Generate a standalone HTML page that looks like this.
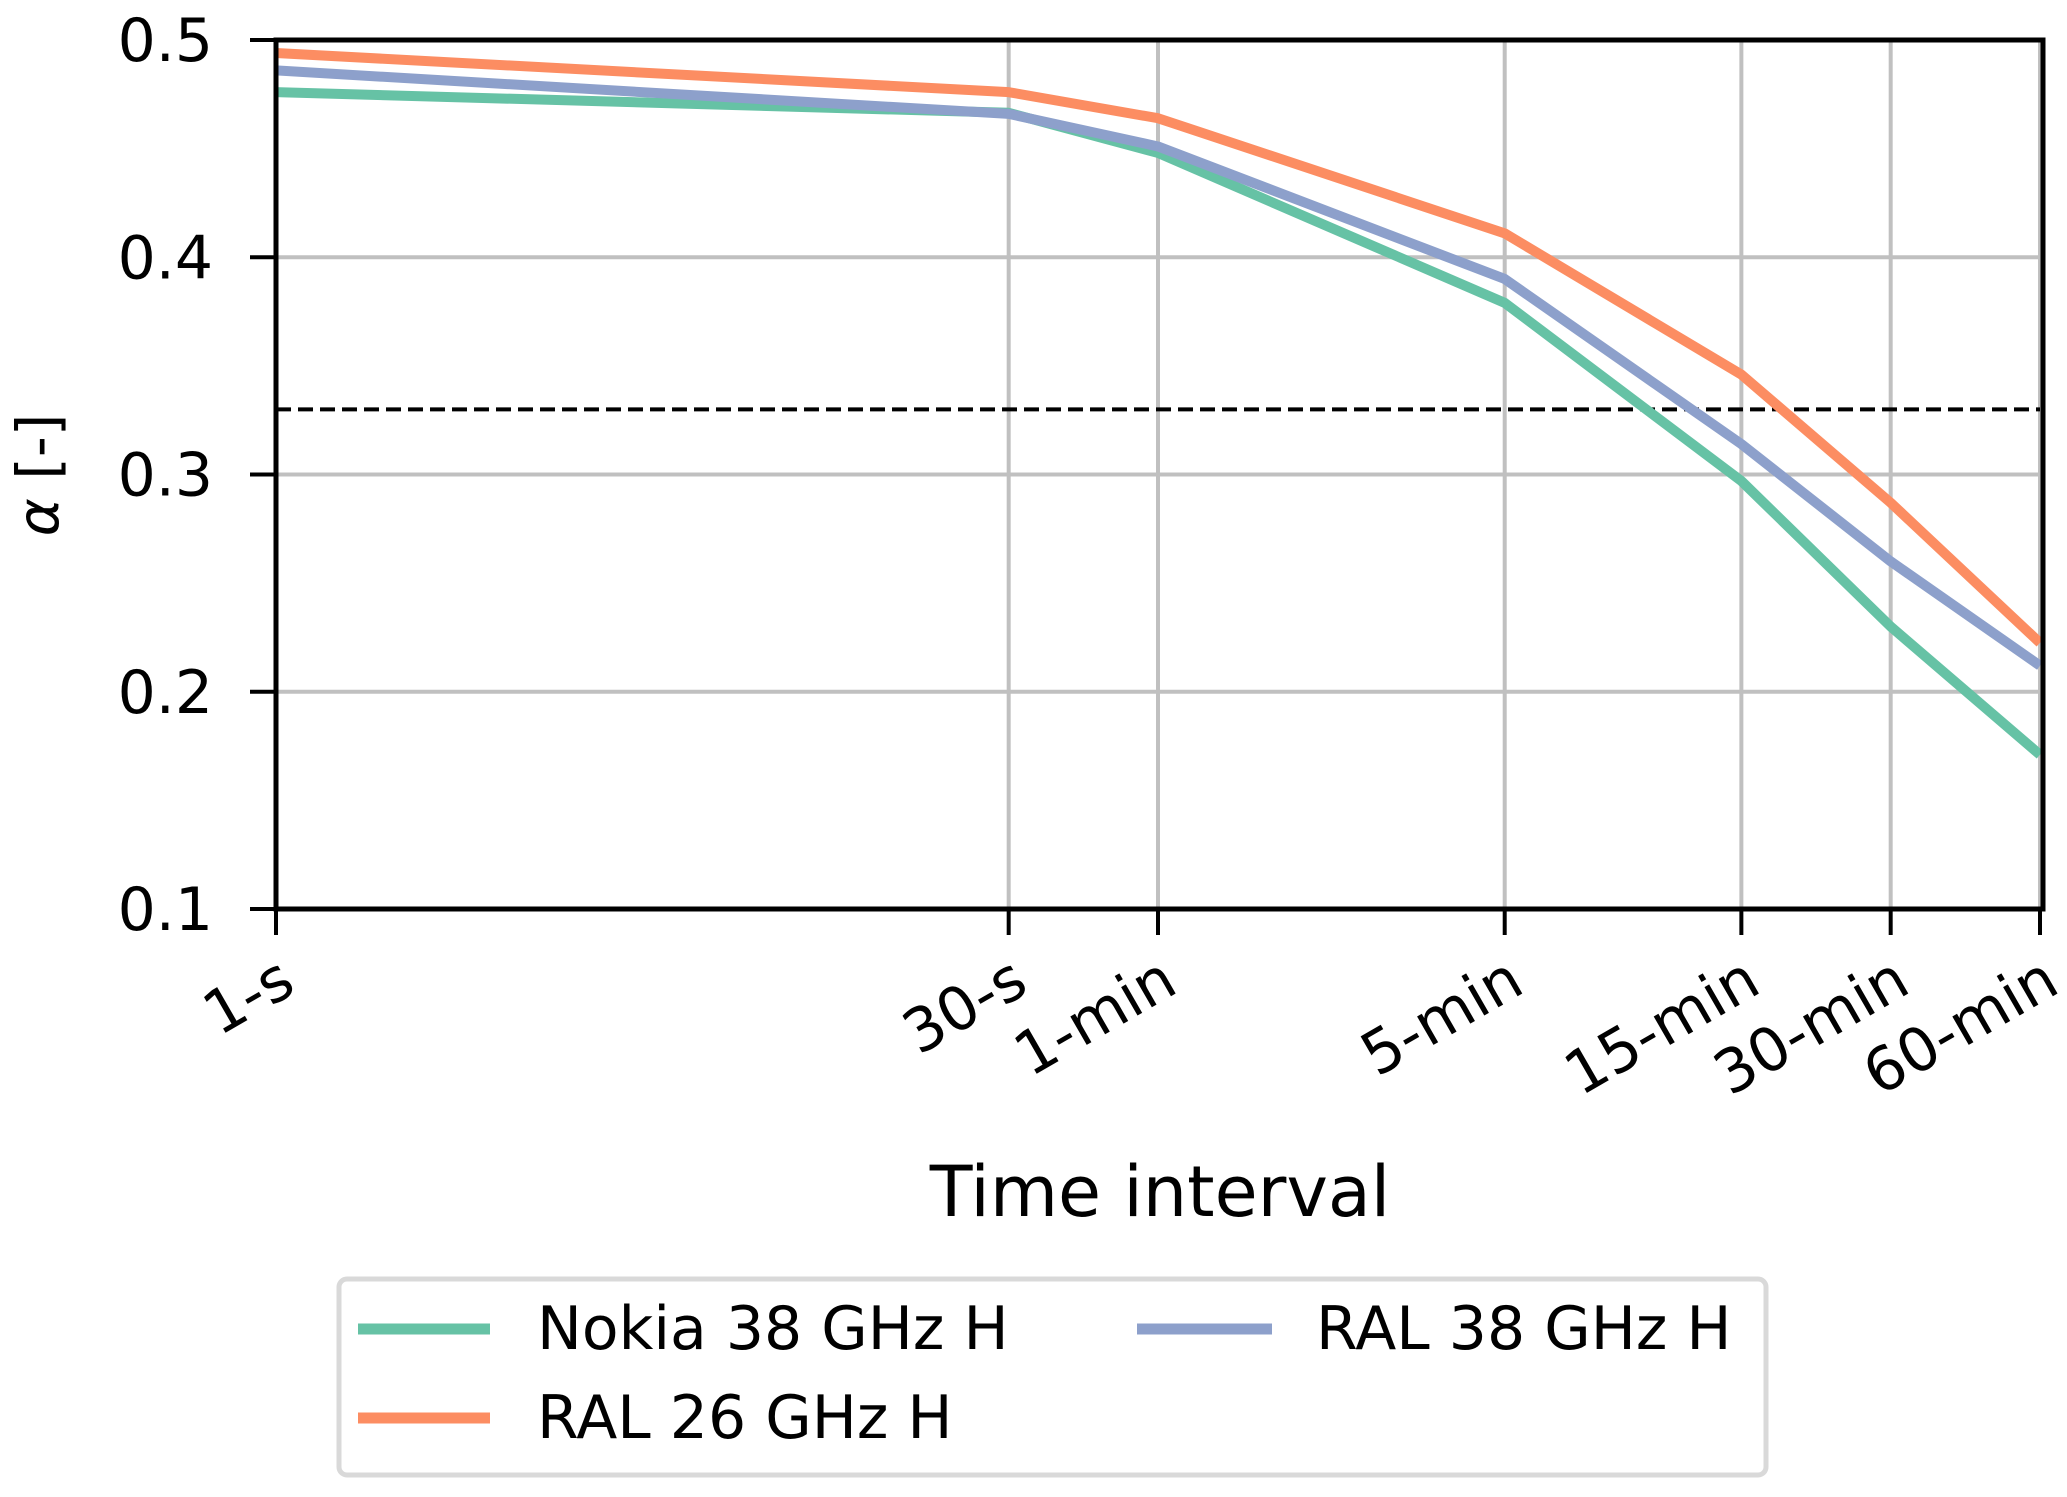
<!DOCTYPE html>
<html><head><meta charset="utf-8"><style>
html,body{margin:0;padding:0;background:#fff;}
svg text{font-family:"DejaVu Sans","Liberation Sans",sans-serif;fill:#000;}
</style></head><body>
<svg id="chart" width="2067" height="1492" viewBox="0 0 2067 1492" xmlns="http://www.w3.org/2000/svg">
<g id="grid"></g>
<g id="series"></g>
<g id="axes"></g>
<text transform="translate(58,475) rotate(-90)" text-anchor="middle" font-size="58"><tspan font-style="italic">α</tspan> [-]</text>
<text x="1160" y="1216" text-anchor="middle" font-size="70">Time interval</text>
<g>
<rect x="339" y="1279" width="1427" height="196" rx="8" fill="#fff" stroke="#d9d9d9" stroke-width="5"/>
<line x1="358" y1="1329" x2="490" y2="1329" stroke="#66c2a5" stroke-width="11"/>
<text x="537" y="1349" font-size="60">Nokia 38 GHz H</text>
<line x1="1137" y1="1329" x2="1272" y2="1329" stroke="#8da0cb" stroke-width="11"/>
<text x="1316" y="1349" font-size="60">RAL 38 GHz H</text>
<line x1="358" y1="1418" x2="490" y2="1418" stroke="#fc8d62" stroke-width="11"/>
<text x="537" y="1438" font-size="60">RAL 26 GHz H</text>
</g>
</svg>
<script>
const categories = ["1-s","30-s","1-min","5-min","15-min","30-min","60-min"];
const seconds = [1,30,60,300,900,1800,3600];
const nokia38 = [0.476,0.4665,0.448,0.379,0.297,0.230,0.171];
const ral26 = [0.494,0.476,0.464,0.411,0.346,0.287,0.2225];
const ral38 = [0.486,0.466,0.451,0.390,0.314,0.260,0.212];
const threshold = 0.33;
const yTicks = [0.1,0.2,0.3,0.4,0.5];

const L=276,R=2040,T=40,B=909,NS="http://www.w3.org/2000/svg";
const x = s => L + Math.log10(s)/Math.log10(3600)*(R-L);
const y = v => B - (v-0.1)/0.4*(B-T);
function mk(tag, attrs, parent){const e=document.createElementNS(NS,tag);for(const k in attrs)e.setAttribute(k,attrs[k]);parent.appendChild(e);return e;}
const grid=document.getElementById('grid'), ser=document.getElementById('series'), axes=document.getElementById('axes');
yTicks.forEach(v=>{
  const g=mk('line',{x1:L,x2:R+3,y1:y(v),y2:y(v),stroke:'#c0c0c0','stroke-width':4},grid);
  
  
  const t=mk('line',{x1:L-26,x2:L,y1:y(v),y2:y(v),stroke:'#000','stroke-width':4},axes);
  
  
  const tx=mk('text',{x:L-63,y:y(v)+21,'text-anchor':'end','font-size':60},axes);
  tx.textContent=v.toFixed(1);
  
  
});
seconds.forEach((s,i)=>{
  const g=mk('line',{x1:x(s),x2:x(s),y1:T,y2:B,stroke:'#c0c0c0','stroke-width':4},grid);
  
  
  const t=mk('line',{x1:x(s),x2:x(s),y1:B,y2:B+26,stroke:'#000','stroke-width':4},axes);
  
  
  const tx=mk('text',{x:0,y:0,'text-anchor':'end','font-size':60,transform:`translate(${x(s)+22},${B+82}) rotate(-30)`},axes);
  tx.textContent=categories[i];
  
  
});
const th=mk('line',{x1:L,x2:R,y1:y(threshold),y2:y(threshold),stroke:'#000','stroke-width':4,'stroke-dasharray':'15 7'},ser);


[[nokia38,'#66c2a5','nokia-38-line'],[ral38,'#8da0cb','ral-38-line'],[ral26,'#fc8d62','ral-26-line']].forEach(([d,c,n])=>{
  const p=mk('polyline',{points:d.map((v,i)=>x(seconds[i])+','+y(v)).join(' '),fill:'none',stroke:c,'stroke-width':10,'stroke-linejoin':'round'},ser);
  
  
});
const f=mk('rect',{x:L,y:T,width:R-L+3,height:B-T,fill:'none',stroke:'#000','stroke-width':5},axes);


</script>
</body></html>
